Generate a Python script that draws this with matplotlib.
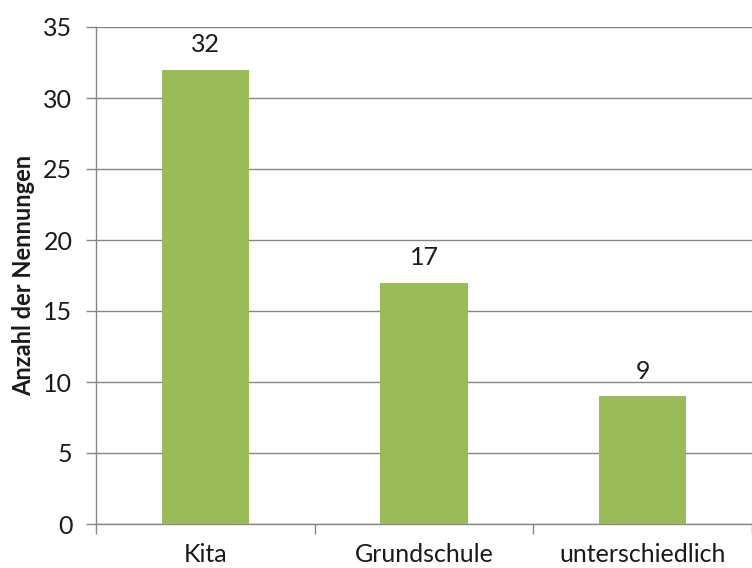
import matplotlib
matplotlib.use("Agg")
import matplotlib.pyplot as plt

categories = ["Kita", "Grundschule", "unterschiedlich"]
counts = [32, 17, 9]
y_ticks = [0, 5, 10, 15, 20, 25, 30, 35]

BAR_COLOR = "#9BBB59"
GRID_COLOR = "#868686"
TEXT_COLOR = "#1a1a1a"

plt.rcParams["font.family"] = ["Lato", "DejaVu Sans"]

fig = plt.figure(figsize=(7.52, 5.68), dpi=100)
ax = fig.add_axes([96 / 752, 44 / 568, 656 / 752, 497 / 568])

positions = list(range(len(categories)))
ax.bar(positions, counts, width=0.4, color=BAR_COLOR, zorder=3)

for x, value in zip(positions, counts):
    ax.annotate(str(value), (x, value), xytext=(0, 18), textcoords="offset points",
                ha="center", va="center", fontsize=18, color=TEXT_COLOR)

ax.set_ylim(0, 35)
ax.set_xlim(-0.5, 2.48)
ax.set_yticks(y_ticks)
ax.yaxis.grid(True, color=GRID_COLOR, linewidth=1, zorder=0)

ax.set_xticks(positions)
ax.set_xticklabels(categories)
ax.set_xticks([-0.5, 0.5, 1.5, 2.5], minor=True)
ax.tick_params(axis="x", which="major", length=0, pad=14, labelsize=18, labelcolor=TEXT_COLOR)
ax.tick_params(axis="x", which="minor", length=7, color=GRID_COLOR, width=1)
ax.tick_params(axis="y", length=7, color=GRID_COLOR, width=1, labelsize=18,
               labelcolor=TEXT_COLOR, pad=10)

for side in ("top", "right"):
    ax.spines[side].set_visible(False)
for side in ("left", "bottom"):
    ax.spines[side].set_color(GRID_COLOR)
    ax.spines[side].set_linewidth(1)

ax.set_ylabel("Anzahl der Nennungen", fontsize=17, fontweight="bold", color=TEXT_COLOR, labelpad=6)

fig.savefig("out.png", dpi=100)
